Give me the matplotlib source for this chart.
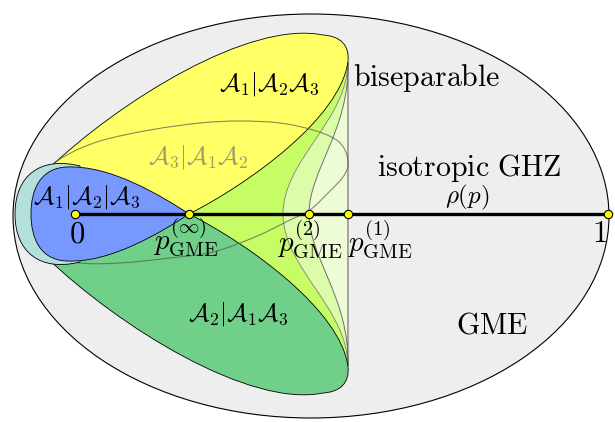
import numpy as np
import matplotlib
matplotlib.use('Agg')
import matplotlib.pyplot as plt
from matplotlib.path import Path
from matplotlib.patches import PathPatch, Ellipse

plt.rcParams['mathtext.fontset'] = 'cm'

# ---- data: points on the isotropic GHZ line rho(p) ----
point_values = [0.0, 0.214, 0.439, 0.512, 1.0]
point_labels = ['$0$', r'$p_{\mathrm{GME}}^{(\infty)}$', r'$p_{\mathrm{GME}}^{(2)}$',
                r'$p_{\mathrm{GME}}^{(1)}$', '$1$']
region_labels = [r'$\mathcal{A}_1|\mathcal{A}_2\mathcal{A}_3$',
                 r'$\mathcal{A}_3|\mathcal{A}_1\mathcal{A}_2$',
                 r'$\mathcal{A}_1|\mathcal{A}_2|\mathcal{A}_3$',
                 r'$\mathcal{A}_2|\mathcal{A}_1\mathcal{A}_3$']
set_labels = [r'$\mathrm{biseparable}$', r'$\mathrm{isotropic\ GHZ}$', r'$\rho(p)$', r'$\mathrm{GME}$']

W, H = 615, 422
fig = plt.figure(figsize=(6.15, 4.22), dpi=100)
ax = fig.add_axes([0, 0, 1, 1])
ax.set_xlim(0, W)
ax.set_ylim(H, 0)
ax.axis('off')

XA, XB, Y0 = 75, 608, 214
def X(p):
    return XA + p * (XB - XA)
xi, x2, x1 = X(point_values[1]), X(point_values[2]), X(point_values[3])

def bez(start, segs):
    verts = [start]; codes = [Path.MOVETO]
    for s in segs:
        if len(s) == 1:
            verts += s; codes += [Path.LINETO]
        else:
            verts += s; codes += [Path.CURVE4] * 3
    verts.append(start); codes.append(Path.CLOSEPOLY)
    return Path(verts, codes)

def mirror_path(path):
    v = path.vertices.copy()
    v[:, 1] = 2 * Y0 - v[:, 1]
    return Path(v, path.codes)

def smooth_closed(pts):
    P = np.array(pts, float); n = len(P)
    verts = [P[0]]; codes = [Path.MOVETO]
    for i in range(n):
        p0, p1, p2, p3 = P[i - 1], P[i], P[(i + 1) % n], P[(i + 2) % n]
        c1 = p1 + (p2 - p0) / 6; c2 = p2 - (p3 - p1) / 6
        verts += [c1, c2, p2]; codes += [Path.CURVE4] * 3
    return Path(verts, codes)

# outer GME ellipse
ax.add_patch(Ellipse((311, 216), 596, 404, facecolor='#eeeeee', edgecolor='k', lw=0.8, zorder=1))

# lime base between yellow and green
lime = Path([(xi - 5, Y0), (x1, 62), (x1, 366), (xi - 5, Y0)],
            [Path.MOVETO, Path.LINETO, Path.LINETO, Path.CLOSEPOLY])
ax.add_patch(PathPatch(lime, facecolor='#c6fc64', edgecolor='none', zorder=2))

# light regions (p2, p1 boundaries)
xc1 = 283
light1 = bez((x1, 62), [[(x1, 120), (xc1, 160), (xc1, Y0)],
                         [(xc1, 268), (x1, 308), (x1, 366)]])
ax.add_patch(PathPatch(light1, facecolor='#dcfcaa', edgecolor='#808080', lw=0.6, zorder=3))
light2 = bez((x1, 62), [[(x1 + 2, 130), (x2, 170), (x2, Y0)],
                         [(x2, 258), (x1 + 2, 298), (x1, 366)]])
ax.add_patch(PathPatch(light2, facecolor='#eefcd6', edgecolor='#707070', lw=0.7, zorder=4))

# yellow A1|A2A3 and green (mirror) A2|A1A3
yellow = bez((45, 172), [[(120, 100), (250, 20), (323, 35)],
                         [(340, 36), (350, 45), (x1, 62)],
                         [(340, 118), (250, 183), (xi, Y0)],
                         [(130, 185), (80, 165), (45, 172)]])
ax.add_patch(PathPatch(yellow, facecolor='#ffff66', edgecolor='k', lw=0.6, zorder=5))
ax.add_patch(PathPatch(mirror_path(yellow), facecolor='#70d08a', edgecolor='k', lw=0.6, zorder=5))

# A3|A1A2 outline
a3_pts = [(348, 165), (345, 150), (335, 139), (313, 130), (280, 123), (240, 121), (200, 123),
          (150, 130), (100, 141), (65, 156), (45, 172), (32, 195), (32, 232), (45, 255),
          (80, 263), (120, 263), (170, 258), (213, 252), (255, 237), (290, 220), (310, 210),
          (330, 191), (343, 177)]
ax.add_patch(PathPatch(smooth_closed(a3_pts), facecolor='none', edgecolor='#555555',
                       alpha=0.7, lw=0.8, zorder=6))

# teal
teal = bez((80, 166), [[(40, 156), (15, 176), (15, Y0)],
                       [(15, 252), (40, 272), (80, 262)],
                       [(80, 166)]])
ax.add_patch(PathPatch(teal, facecolor='#b3e0dc', edgecolor='k', lw=0.6, zorder=7))

# blue fully separable
blue = bez((xi, Y0), [[(160, 195), (110, 165), (67, 167)],
                      [(40, 168), (31, 190), (31, Y0)],
                      [(31, 238), (40, 260), (67, 261)],
                      [(110, 263), (160, 233), (xi, Y0)]])
ax.add_patch(PathPatch(blue, facecolor='#7799ff', edgecolor='k', lw=0.6, zorder=8))

# line rho(p) and points
ax.plot([X(0), X(1)], [Y0, Y0], color='k', lw=2.4, zorder=9, solid_capstyle='butt')
ax.plot([X(v) for v in point_values], [Y0] * len(point_values), 'o', mfc='#ffff00',
        mec='k', ms=6, mew=0.8, zorder=10)

# point labels
ax.text(X(point_values[0]) + 2, 234, point_labels[0], fontsize=22, ha='center', va='center', zorder=11)
ax.text(X(point_values[1]) - 3, 216, point_labels[1], fontsize=21, ha='center', va='top', zorder=11)
ax.text(X(point_values[2]) + 1, 218, point_labels[2], fontsize=21, ha='center', va='top', zorder=11)
ax.text(X(point_values[3]) + 32, 218, point_labels[3], fontsize=21, ha='center', va='top', zorder=11)
ax.text(X(point_values[4]) - 9, 234, point_labels[4], fontsize=22, ha='center', va='center', zorder=11)

# region labels
ax.text(269, 84, region_labels[0], fontsize=18, ha='center', va='center', zorder=11)
ax.text(198, 157, region_labels[1], fontsize=18, ha='center', va='center', color='#9c9c6c', zorder=11)
ax.text(87, 197, region_labels[2], fontsize=18, ha='center', va='center', zorder=11)
ax.text(238, 314, region_labels[3], fontsize=18, ha='center', va='center', zorder=11)

# set labels
ax.text(353, 86, set_labels[0], fontsize=21.5, ha='left', va='baseline', zorder=11)
ax.text(469, 176, set_labels[1], fontsize=21.5, ha='center', va='baseline', zorder=11)
ax.text(467, 197, set_labels[2], fontsize=18, ha='center', va='center', zorder=11)
ax.text(492, 334, set_labels[3], fontsize=21.5, ha='center', va='baseline', zorder=11)

fig.savefig('out.png', dpi=100)
